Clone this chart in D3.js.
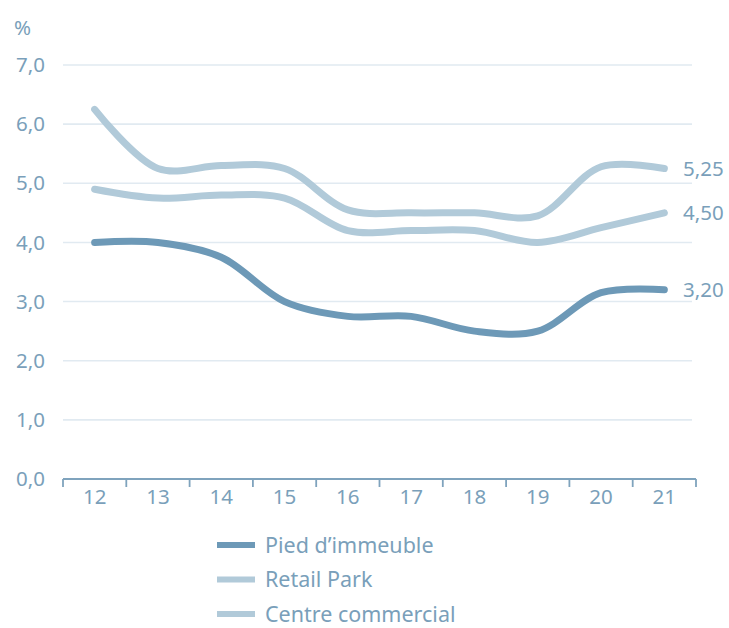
<!DOCTYPE html>
<html>
<head>
<meta charset="utf-8">
<script src="https://cdn.jsdelivr.net/npm/d3@7"></script>
<style>
  html, body { margin: 0; padding: 0; background: #ffffff; }
  svg { display: block; }
</style>
</head>
<body>
<svg id="chart" width="729" height="628"></svg>
<script>
// ---- Data ----
const years = ["12", "13", "14", "15", "16", "17", "18", "19", "20", "21"];
const piedImmeuble = [4.0, 4.0, 3.75, 3.0, 2.75, 2.75, 2.5, 2.5, 3.15, 3.2];
const retailPark = [6.25, 5.25, 5.3, 5.25, 4.55, 4.5, 4.5, 4.45, 5.28, 5.25];
const centreCommercial = [4.9, 4.75, 4.8, 4.75, 4.2, 4.2, 4.2, 4.0, 4.25, 4.5];
const yTicks = [0, 1, 2, 3, 4, 5, 6, 7];
const seriesNames = ["Pied d\u2019immeuble", "Retail Park", "Centre commercial"];
const endLabels = ["3,20", "5,25", "4,50"];

// ---- Styles ----
const darkBlue = "#6d99b7";
const lightBlue = "#b1cad9";
const textColor = "#7a9fba";
const gridColor = "#e1eaf1";
const fontFamily = "'Noto Sans', 'Open Sans', sans-serif";
const fs = 20.5;

const series = [
  { name: seriesNames[0], values: piedImmeuble, color: darkBlue, label: endLabels[0] },
  { name: seriesNames[1], values: retailPark, color: lightBlue, label: endLabels[1] },
  { name: seriesNames[2], values: centreCommercial, color: lightBlue, label: endLabels[2] }
];

const svg = d3.select("#chart");

const x = d3.scaleBand().domain(years).range([63, 696]);
const y = d3.scaleLinear().domain([0, 7]).range([479, 65]);

const fmt = d => d.toFixed(1).replace(".", ",");

// gridlines
svg.append("g").selectAll("line")
  .data(yTicks.filter(d => d > 0))
  .join("line")
  .attr("x1", 63).attr("x2", 692)
  .attr("y1", d => y(d)).attr("y2", d => y(d))
  .attr("stroke", gridColor).attr("stroke-width", 1.6);

// y labels
svg.append("g").selectAll("text")
  .data(yTicks)
  .join("text")
  .attr("x", 45)
  .attr("y", d => y(d))
  .attr("dy", "0.35em")
  .attr("text-anchor", "end")
  .attr("fill", textColor)
  .attr("font-family", fontFamily)
  .attr("font-size", fs)
  .text(fmt);

// % label
svg.append("text")
  .attr("x", 14).attr("y", 28).attr("dy", "0.35em")
  .attr("fill", textColor)
  .attr("font-family", fontFamily)
  .attr("font-size", fs)
  .text("%");

// x axis
const xAxis = svg.append("g").attr("transform", `translate(0,${y(0)})`);
xAxis.append("line")
  .attr("x1", 63).attr("x2", 696)
  .attr("stroke", "#7fa3bd").attr("stroke-width", 1.8);
const edges = years.map(d => x(d)).concat([x(years[years.length - 1]) + x.bandwidth()]);
xAxis.selectAll("line.tick")
  .data(edges)
  .join("line")
  .attr("class", "tick")
  .attr("x1", d => d).attr("x2", d => d)
  .attr("y1", 0).attr("y2", 8)
  .attr("stroke", "#7fa3bd").attr("stroke-width", 1.8);
xAxis.selectAll("text")
  .data(years)
  .join("text")
  .attr("x", d => x(d) + x.bandwidth() / 2)
  .attr("y", 18)
  .attr("dy", "0.35em")
  .attr("text-anchor", "middle")
  .attr("fill", textColor)
  .attr("font-family", fontFamily)
  .attr("font-size", fs)
  .text(d => d);

// lines
const line = d3.line()
  .x((d, i) => x(years[i]) + x.bandwidth() / 2)
  .y(d => y(d))
  .curve(d3.curveCatmullRom.alpha(0.5));

const drawOrder = [series[2], series[1], series[0]];
svg.append("g").selectAll("path")
  .data(drawOrder)
  .join("path")
  .attr("d", d => line(d.values))
  .attr("fill", "none")
  .attr("stroke", d => d.color)
  .attr("stroke-width", 7)
  .attr("stroke-linecap", "round")
  .attr("stroke-linejoin", "round");

// end labels
svg.append("g").selectAll("text")
  .data(series)
  .join("text")
  .attr("x", 683)
  .attr("y", d => y(d.values[d.values.length - 1]))
  .attr("dy", "0.35em")
  .attr("fill", textColor)
  .attr("font-family", fontFamily)
  .attr("font-size", fs)
  .text(d => d.label);

// legend
const legend = svg.append("g").selectAll("g")
  .data(series)
  .join("g")
  .attr("transform", (d, i) => `translate(0,${545 + i * 34.5})`);
legend.append("line")
  .attr("x1", 217).attr("x2", 255)
  .attr("y1", 0).attr("y2", 0)
  .attr("stroke", d => d.color)
  .attr("stroke-width", 6);
legend.append("text")
  .attr("x", 265).attr("y", 0).attr("dy", "0.35em")
  .attr("fill", textColor)
  .attr("font-family", fontFamily)
  .attr("font-size", 21.5)
  .text(d => d.name);
</script>
</body>
</html>
